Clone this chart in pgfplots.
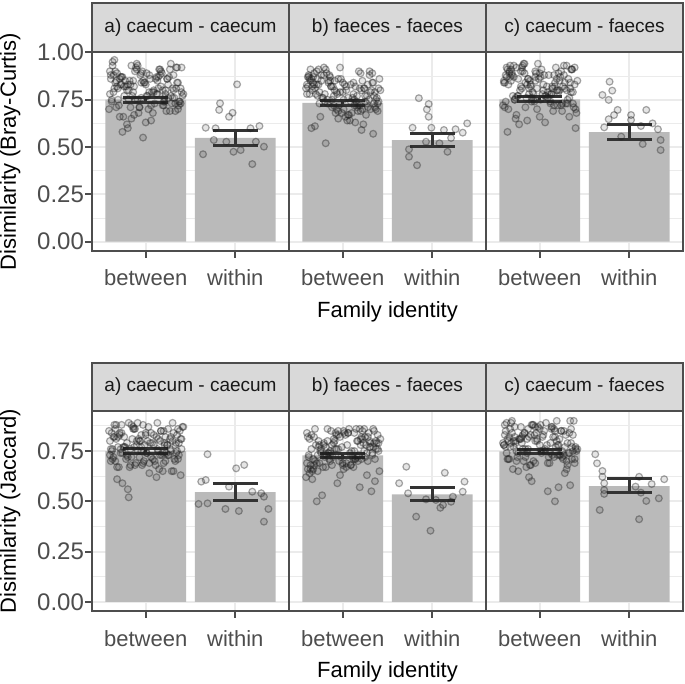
\documentclass[border=0pt]{standalone}
\usepackage{fontspec}
\setmainfont{Liberation Sans}
\usepackage{pgfplots}
\usepackage{pgfplotstable}
\pgfplotsset{compat=1.18}
\definecolor{frame}{RGB}{77,77,77}
\definecolor{stripfill}{RGB}{217,217,217}
\definecolor{gridc}{RGB}{235,235,235}
\definecolor{barc}{RGB}{186,186,186}
\definecolor{errc}{RGB}{51,51,51}
\definecolor{tickc}{RGB}{77,77,77}

% ---------- between-family points (jittered) ----------
\pgfplotstableread[row sep=\\]{x y\\
0.61 0.86\\ 0.93 0.71\\ 1.22 0.80\\ 0.74 0.58\\ 1.35 0.92\\ 0.85 0.77\\ 1.08 0.68\\ 0.66 0.90\\ 1.29 0.73\\ 0.99 0.84\\
0.71 0.66\\ 1.16 0.88\\ 0.88 0.75\\ 1.40 0.79\\ 0.63 0.95\\ 1.03 0.70\\ 1.25 0.83\\ 0.79 0.62\\ 1.12 0.87\\ 0.95 0.76\\
1.33 0.69\\ 0.69 0.81\\ 0.91 0.93\\ 1.19 0.72\\ 0.82 0.85\\ 1.38 0.74\\ 0.60 0.78\\ 1.06 0.64\\ 1.27 0.91\\ 0.76 0.82\\
0.97 0.55\\ 1.14 0.87\\ 0.67 0.71\\ 1.31 0.80\\ 0.87 0.67\\ 1.01 0.89\\ 1.21 0.76\\ 0.73 0.83\\ 1.36 0.70\\ 0.90 0.94\\
0.64 0.79\\ 1.10 0.73\\ 1.24 0.86\\ 0.80 0.60\\ 1.41 0.77\\ 0.95 0.84\\ 0.70 0.72\\ 1.17 0.90\\ 0.84 0.65\\ 1.30 0.81\\
1.04 0.88\\ 0.62 0.75\\ 1.23 0.69\\ 0.77 0.85\\ 1.13 0.78\\ 0.89 0.92\\ 1.37 0.74\\ 0.68 0.82\\ 1.00 0.63\\ 1.26 0.87\\
0.83 0.71\\ 1.09 0.80\\ 0.65 0.96\\ 1.32 0.76\\ 0.92 0.68\\ 1.18 0.89\\ 0.72 0.83\\ 1.39 0.73\\ 0.86 0.79\\ 1.05 0.86\\
0.59 0.70\\ 1.28 0.77\\ 0.98 0.84\\ 0.75 0.66\\ 1.15 0.91\\ 0.81 0.75\\ 1.34 0.81\\ 0.94 0.88\\ 1.20 0.72\\ 0.67 0.85\\
0.78 0.82\\ 1.02 0.77\\ 1.31 0.88\\ 0.62 0.74\\ 0.90 0.91\\ 1.19 0.80\\ 0.71 0.86\\ 1.37 0.72\\ 0.84 0.93\\ 1.07 0.79\\
0.66 0.84\\ 1.25 0.76\\ 0.95 0.89\\ 1.14 0.81\\ 0.74 0.87\\ 1.33 0.73\\ 0.60 0.90\\ 1.00 0.83\\ 1.22 0.78\\ 0.86 0.85\\
1.40 0.92\\ 0.69 0.75\\ 1.11 0.86\\ 0.81 0.80\\ 1.28 0.94\\ 0.93 0.71\\ 0.64 0.88\\ 1.17 0.82\\ 0.76 0.77\\ 1.35 0.84\\
1.04 0.79\\ 0.88 0.90\\ 1.21 0.74\\ 0.72 0.87\\ 1.39 0.81\\ 0.97 0.85\\ 0.63 0.93\\ 1.12 0.78\\ 0.83 0.83\\ 1.30 0.76\\
0.68 0.89\\ 1.06 0.72\\ 1.24 0.86\\ 0.79 0.80\\ 1.16 0.91\\ 0.91 0.75\\ 1.36 0.84\\ 0.61 0.88\\ 1.09 0.79\\ 0.87 0.82\\
1.27 0.69\\ 0.73 0.87\\ 1.01 0.77\\ 1.34 0.92\\ 0.80 0.83\\ 1.20 0.74\\ 0.96 0.90\\ 0.65 0.81\\ 1.13 0.85\\ 1.42 0.78\\
}\tAb
\pgfplotstableread[row sep=\\]{x y\\
0.67 0.84\\ 1.20 0.69\\ 0.94 0.78\\ 1.34 0.57\\ 1.30 0.88\\ 1.15 0.74\\ 0.75 0.66\\ 0.98 0.86\\ 1.28 0.71\\ 0.59 0.81\\
1.05 0.64\\ 0.86 0.85\\ 1.39 0.73\\ 0.72 0.77\\ 1.18 0.90\\ 0.92 0.68\\ 1.32 0.80\\ 0.65 0.60\\ 1.09 0.83\\ 0.83 0.75\\
1.26 0.67\\ 1.00 0.79\\ 0.68 0.89\\ 1.37 0.70\\ 0.89 0.82\\ 1.13 0.72\\ 0.77 0.76\\ 1.23 0.62\\ 0.62 0.87\\ 1.04 0.80\\
0.81 0.52\\ 0.84 0.84\\ 1.17 0.69\\ 0.70 0.78\\ 0.95 0.65\\ 1.41 0.86\\ 0.80 0.74\\ 1.24 0.81\\ 1.10 0.68\\ 0.64 0.91\\
0.90 0.77\\ 1.36 0.71\\ 0.73 0.83\\ 1.21 0.59\\ 1.01 0.75\\ 0.87 0.82\\ 1.31 0.70\\ 0.67 0.87\\ 1.14 0.63\\ 0.97 0.79\\
0.76 0.85\\ 1.27 0.73\\ 1.06 0.67\\ 0.60 0.83\\ 1.38 0.76\\ 0.82 0.89\\ 1.19 0.72\\ 0.91 0.80\\ 0.69 0.61\\ 1.33 0.84\\
0.95 0.69\\ 1.12 0.78\\ 0.79 0.92\\ 1.25 0.74\\ 1.03 0.66\\ 0.63 0.86\\ 1.40 0.81\\ 0.88 0.71\\ 1.16 0.77\\ 0.71 0.83\\
0.99 0.68\\ 1.29 0.75\\ 0.66 0.82\\ 1.08 0.64\\ 0.85 0.88\\ 1.35 0.73\\ 0.74 0.79\\ 1.22 0.85\\ 0.93 0.70\\ 0.61 0.82\\
1.42 0.80\\ 1.13 0.75\\ 0.65 0.86\\ 0.96 0.72\\ 1.20 0.89\\ 0.80 0.78\\ 1.34 0.84\\ 1.01 0.70\\ 0.73 0.91\\ 1.27 0.77\\
0.87 0.82\\ 1.09 0.74\\ 0.61 0.87\\ 1.36 0.79\\ 0.91 0.85\\ 1.16 0.71\\ 0.79 0.88\\ 1.24 0.81\\ 1.06 0.76\\ 0.68 0.83\\
1.30 0.90\\ 0.83 0.73\\ 1.12 0.84\\ 0.63 0.78\\ 0.97 0.92\\ 1.39 0.69\\ 0.72 0.86\\ 1.21 0.80\\ 0.88 0.75\\ 1.04 0.82\\
1.35 0.77\\ 0.76 0.88\\ 1.17 0.72\\ 0.64 0.85\\ 0.93 0.79\\ 1.28 0.83\\ 0.81 0.91\\ 1.11 0.76\\ 0.69 0.81\\ 1.40 0.74\\
0.86 0.87\\ 1.22 0.70\\ 1.00 0.84\\ 0.60 0.78\\ 1.33 0.89\\ 0.74 0.73\\ 1.14 0.82\\ 0.95 0.86\\ 1.25 0.77\\ 0.66 0.80\\
1.07 0.67\\ 0.84 0.85\\ 1.37 0.75\\ 0.71 0.90\\ 1.19 0.81\\ 0.90 0.72\\ 0.62 0.88\\ 1.31 0.79\\ 1.02 0.83\\ 0.78 0.76\\
}\tBb
\pgfplotstableread[row sep=\\]{x y\\
0.71 0.87\\ 1.16 0.72\\ 0.88 0.81\\ 1.40 0.60\\ 0.63 0.92\\ 1.03 0.78\\ 1.25 0.69\\ 0.79 0.90\\ 1.12 0.74\\ 0.95 0.85\\
1.33 0.66\\ 0.69 0.89\\ 0.91 0.76\\ 1.19 0.80\\ 0.82 0.94\\ 1.38 0.71\\ 0.60 0.84\\ 1.06 0.63\\ 1.27 0.88\\ 0.76 0.77\\
0.97 0.70\\ 1.14 0.82\\ 0.67 0.93\\ 1.31 0.73\\ 0.87 0.86\\ 1.01 0.75\\ 1.21 0.79\\ 0.73 0.65\\ 1.36 0.91\\ 0.90 0.83\\
0.64 0.58\\ 1.10 0.88\\ 1.24 0.72\\ 0.80 0.81\\ 1.41 0.68\\ 0.95 0.90\\ 0.70 0.77\\ 1.17 0.84\\ 0.84 0.71\\ 1.30 0.93\\
1.04 0.80\\ 0.62 0.74\\ 1.23 0.87\\ 0.77 0.62\\ 1.13 0.78\\ 0.89 0.85\\ 1.37 0.73\\ 0.68 0.91\\ 1.00 0.66\\ 1.26 0.82\\
0.83 0.89\\ 1.09 0.76\\ 0.65 0.70\\ 1.32 0.86\\ 0.92 0.79\\ 1.18 0.92\\ 0.72 0.75\\ 1.39 0.83\\ 0.86 0.64\\ 1.05 0.88\\
0.59 0.72\\ 1.28 0.81\\ 0.98 0.94\\ 0.75 0.77\\ 1.15 0.69\\ 0.81 0.90\\ 1.34 0.84\\ 0.94 0.74\\ 1.20 0.80\\ 0.67 0.87\\
0.61 0.71\\ 0.93 0.78\\ 1.22 0.85\\ 0.74 0.67\\ 1.35 0.91\\ 0.85 0.76\\ 1.08 0.82\\ 0.66 0.89\\ 1.29 0.73\\ 0.99 0.86\\
1.04 0.83\\ 0.88 0.78\\ 1.21 0.89\\ 0.72 0.75\\ 1.39 0.92\\ 0.97 0.81\\ 0.63 0.87\\ 1.12 0.73\\ 0.83 0.94\\ 1.30 0.80\\
0.68 0.85\\ 1.06 0.77\\ 1.24 0.90\\ 0.79 0.82\\ 1.16 0.88\\ 0.91 0.74\\ 1.36 0.91\\ 0.61 0.84\\ 1.09 0.79\\ 0.87 0.86\\
1.27 0.93\\ 0.73 0.76\\ 1.01 0.87\\ 1.34 0.81\\ 0.80 0.92\\ 1.20 0.72\\ 0.96 0.89\\ 0.65 0.83\\ 1.13 0.78\\ 1.42 0.85\\
0.78 0.80\\ 1.02 0.91\\ 1.31 0.75\\ 0.62 0.88\\ 0.90 0.82\\ 1.19 0.86\\ 0.71 0.93\\ 1.37 0.79\\ 0.84 0.84\\ 1.07 0.77\\
0.66 0.90\\ 1.25 0.73\\ 0.95 0.87\\ 1.14 0.81\\ 0.74 0.92\\ 1.33 0.76\\ 0.60 0.85\\ 1.00 0.89\\ 1.22 0.80\\ 0.86 0.83\\
1.40 0.70\\ 0.69 0.88\\ 1.11 0.78\\ 0.81 0.93\\ 1.28 0.84\\ 0.93 0.75\\ 0.64 0.91\\ 1.17 0.82\\ 0.76 0.86\\ 1.35 0.79\\
}\tCb
\pgfplotstableread[row sep=\\]{x y\\
0.64 0.82\\ 1.10 0.70\\ 1.24 0.78\\ 0.80 0.56\\ 1.41 0.87\\ 0.95 0.75\\ 0.70 0.67\\ 1.17 0.85\\ 0.84 0.72\\ 1.30 0.80\\
1.04 0.64\\ 0.62 0.84\\ 1.23 0.74\\ 0.77 0.77\\ 1.13 0.89\\ 0.89 0.69\\ 1.37 0.79\\ 0.68 0.61\\ 1.00 0.83\\ 1.26 0.73\\
0.83 0.68\\ 1.09 0.78\\ 0.65 0.88\\ 1.32 0.71\\ 0.92 0.81\\ 1.18 0.73\\ 0.72 0.76\\ 1.39 0.63\\ 0.86 0.86\\ 1.05 0.79\\
0.81 0.52\\ 1.28 0.82\\ 0.98 0.70\\ 0.75 0.77\\ 1.15 0.66\\ 0.59 0.85\\ 1.34 0.74\\ 0.94 0.80\\ 1.20 0.69\\ 0.67 0.88\\
0.61 0.76\\ 0.93 0.72\\ 1.22 0.82\\ 0.74 0.59\\ 1.35 0.75\\ 0.85 0.81\\ 1.08 0.71\\ 0.66 0.86\\ 1.29 0.65\\ 0.99 0.78\\
0.71 0.84\\ 1.16 0.73\\ 0.88 0.68\\ 1.40 0.81\\ 0.63 0.76\\ 1.03 0.87\\ 1.25 0.73\\ 0.79 0.79\\ 1.12 0.62\\ 0.95 0.83\\
1.33 0.70\\ 0.69 0.77\\ 0.91 0.89\\ 1.19 0.74\\ 0.82 0.67\\ 1.38 0.85\\ 0.60 0.80\\ 1.06 0.72\\ 1.27 0.76\\ 0.76 0.82\\
0.97 0.69\\ 1.14 0.75\\ 0.67 0.81\\ 1.31 0.65\\ 0.87 0.86\\ 1.01 0.74\\ 1.21 0.78\\ 0.73 0.84\\ 1.36 0.71\\ 0.90 0.80\\
1.33 0.78\\ 0.60 0.73\\ 1.00 0.84\\ 1.22 0.70\\ 0.86 0.87\\ 1.40 0.76\\ 0.69 0.82\\ 1.11 0.68\\ 0.81 0.89\\ 1.28 0.75\\
0.93 0.80\\ 0.64 0.72\\ 1.17 0.85\\ 0.76 0.77\\ 1.35 0.83\\ 1.04 0.69\\ 0.88 0.86\\ 1.21 0.79\\ 0.72 0.74\\ 1.39 0.81\\
0.97 0.88\\ 0.63 0.71\\ 1.12 0.82\\ 0.83 0.76\\ 1.30 0.89\\ 0.68 0.67\\ 1.06 0.84\\ 1.24 0.78\\ 0.79 0.73\\ 1.16 0.80\\
0.91 0.75\\ 1.36 0.86\\ 0.61 0.70\\ 1.09 0.83\\ 0.87 0.77\\ 1.27 0.81\\ 0.73 0.88\\ 1.01 0.74\\ 1.34 0.79\\ 0.80 0.72\\
1.20 0.85\\ 0.96 0.68\\ 0.65 0.82\\ 1.13 0.76\\ 1.42 0.87\\ 0.78 0.71\\ 1.02 0.80\\ 1.31 0.84\\ 0.62 0.75\\ 0.90 0.78\\
1.19 0.65\\ 0.71 0.83\\ 1.37 0.73\\ 0.84 0.88\\ 1.07 0.79\\ 0.66 0.70\\ 1.25 0.86\\ 0.95 0.77\\ 1.14 0.81\\ 0.74 0.74\\
}\tDb
\pgfplotstableread[row sep=\\]{x y\\
0.83 0.80\\ 1.09 0.68\\ 0.65 0.76\\ 1.32 0.55\\ 0.92 0.84\\ 1.18 0.73\\ 0.72 0.65\\ 1.39 0.83\\ 0.86 0.70\\ 1.05 0.78\\
0.59 0.62\\ 1.28 0.82\\ 0.98 0.72\\ 0.75 0.75\\ 1.15 0.86\\ 0.81 0.67\\ 1.34 0.77\\ 0.94 0.59\\ 1.20 0.81\\ 0.67 0.71\\
0.61 0.66\\ 0.93 0.76\\ 1.22 0.85\\ 0.74 0.69\\ 1.35 0.79\\ 0.85 0.71\\ 1.08 0.74\\ 0.66 0.61\\ 1.29 0.84\\ 0.99 0.77\\
0.71 0.50\\ 1.16 0.80\\ 0.88 0.68\\ 1.40 0.75\\ 0.63 0.64\\ 1.03 0.83\\ 1.25 0.72\\ 0.79 0.78\\ 1.12 0.67\\ 0.95 0.85\\
1.33 0.74\\ 0.69 0.70\\ 0.91 0.80\\ 1.19 0.57\\ 0.82 0.73\\ 1.38 0.79\\ 0.60 0.69\\ 1.06 0.84\\ 1.27 0.63\\ 0.76 0.76\\
0.97 0.82\\ 1.14 0.71\\ 0.67 0.66\\ 1.31 0.79\\ 0.87 0.74\\ 1.01 0.85\\ 1.21 0.71\\ 0.73 0.77\\ 1.36 0.60\\ 0.90 0.81\\
0.64 0.68\\ 1.10 0.75\\ 1.24 0.86\\ 0.80 0.72\\ 1.41 0.65\\ 0.95 0.83\\ 0.70 0.78\\ 1.17 0.70\\ 0.84 0.74\\ 1.30 0.80\\
1.04 0.67\\ 0.62 0.73\\ 1.23 0.79\\ 0.77 0.53\\ 1.13 0.84\\ 0.89 0.72\\ 1.37 0.76\\ 0.68 0.82\\ 1.00 0.69\\ 1.26 0.78\\
0.91 0.76\\ 1.36 0.71\\ 0.61 0.82\\ 1.09 0.68\\ 0.87 0.85\\ 1.27 0.74\\ 0.73 0.80\\ 1.01 0.66\\ 1.34 0.86\\ 0.80 0.73\\
1.20 0.78\\ 0.96 0.70\\ 0.65 0.83\\ 1.13 0.75\\ 1.42 0.81\\ 0.78 0.67\\ 1.02 0.84\\ 1.31 0.77\\ 0.62 0.72\\ 0.90 0.79\\
1.19 0.86\\ 0.71 0.69\\ 1.37 0.80\\ 0.84 0.74\\ 1.07 0.86\\ 0.66 0.65\\ 1.25 0.82\\ 0.95 0.76\\ 1.14 0.71\\ 0.74 0.78\\
1.33 0.73\\ 0.60 0.84\\ 1.00 0.68\\ 1.22 0.81\\ 0.86 0.75\\ 1.40 0.79\\ 0.69 0.86\\ 1.11 0.72\\ 0.81 0.77\\ 1.28 0.70\\
0.93 0.83\\ 0.64 0.66\\ 1.17 0.80\\ 0.76 0.74\\ 1.35 0.85\\ 1.04 0.69\\ 0.88 0.78\\ 1.21 0.82\\ 0.72 0.73\\ 1.39 0.76\\
0.97 0.63\\ 0.63 0.81\\ 1.12 0.71\\ 0.83 0.86\\ 1.30 0.77\\ 0.68 0.68\\ 1.06 0.84\\ 1.24 0.75\\ 0.79 0.79\\ 1.16 0.72\\
}\tEb
\pgfplotstableread[row sep=\\]{x y\\
0.90 0.83\\ 1.36 0.71\\ 0.73 0.79\\ 1.21 0.57\\ 1.01 0.88\\ 0.87 0.76\\ 1.31 0.68\\ 0.67 0.86\\ 1.14 0.73\\ 0.97 0.81\\
0.76 0.65\\ 1.27 0.85\\ 1.06 0.75\\ 0.60 0.78\\ 1.38 0.90\\ 0.82 0.70\\ 1.19 0.80\\ 0.91 0.60\\ 0.69 0.84\\ 1.33 0.74\\
0.95 0.69\\ 1.12 0.79\\ 0.79 0.87\\ 1.25 0.72\\ 1.03 0.82\\ 0.63 0.74\\ 1.40 0.77\\ 0.88 0.62\\ 1.16 0.86\\ 0.71 0.80\\
1.17 0.50\\ 1.29 0.83\\ 0.66 0.71\\ 1.08 0.78\\ 0.85 0.67\\ 1.35 0.86\\ 0.74 0.75\\ 1.22 0.81\\ 0.93 0.70\\ 0.61 0.88\\
0.67 0.77\\ 1.20 0.73\\ 0.94 0.83\\ 1.34 0.58\\ 0.81 0.76\\ 1.15 0.82\\ 0.75 0.72\\ 0.98 0.87\\ 1.28 0.64\\ 0.59 0.79\\
1.05 0.85\\ 0.86 0.74\\ 1.39 0.69\\ 0.72 0.82\\ 1.18 0.77\\ 0.92 0.88\\ 1.32 0.74\\ 0.65 0.80\\ 1.09 0.55\\ 0.83 0.84\\
1.26 0.71\\ 1.00 0.78\\ 0.68 0.89\\ 1.37 0.75\\ 0.89 0.68\\ 1.13 0.86\\ 0.77 0.81\\ 1.23 0.73\\ 0.62 0.77\\ 1.04 0.83\\
1.30 0.70\\ 0.84 0.76\\ 1.17 0.82\\ 0.70 0.66\\ 0.95 0.87\\ 1.41 0.75\\ 0.80 0.79\\ 1.24 0.85\\ 1.10 0.72\\ 0.64 0.81\\
1.35 0.79\\ 0.76 0.74\\ 1.17 0.85\\ 0.64 0.71\\ 0.93 0.88\\ 1.28 0.77\\ 0.81 0.83\\ 1.11 0.69\\ 0.69 0.90\\ 1.40 0.76\\
0.86 0.81\\ 1.22 0.73\\ 1.00 0.86\\ 0.60 0.78\\ 1.33 0.84\\ 0.74 0.70\\ 1.14 0.87\\ 0.95 0.80\\ 1.25 0.75\\ 0.66 0.82\\
1.07 0.89\\ 0.84 0.72\\ 1.37 0.83\\ 0.71 0.77\\ 1.19 0.90\\ 0.90 0.68\\ 0.62 0.85\\ 1.31 0.79\\ 1.02 0.74\\ 0.78 0.81\\
1.42 0.76\\ 1.13 0.87\\ 0.65 0.71\\ 0.96 0.84\\ 1.20 0.78\\ 0.80 0.82\\ 1.34 0.90\\ 1.01 0.75\\ 0.73 0.80\\ 1.27 0.73\\
0.87 0.86\\ 1.09 0.69\\ 0.61 0.83\\ 1.36 0.77\\ 0.91 0.88\\ 1.16 0.72\\ 0.79 0.81\\ 1.24 0.85\\ 1.06 0.76\\ 0.68 0.79\\
1.30 0.66\\ 0.83 0.84\\ 1.12 0.74\\ 0.63 0.89\\ 0.97 0.80\\ 1.39 0.71\\ 0.72 0.87\\ 1.21 0.78\\ 0.88 0.82\\ 1.04 0.75\\
}\tFb

% ---------- within-family points (jittered) ----------
\pgfplotstableread[row sep=\\]{x y\\
2.02 0.831\\ 1.83 0.731\\ 1.82 0.696\\ 1.97 0.681\\ 1.93 0.660\\ 1.67 0.602\\ 1.78 0.599\\ 2.27 0.611\\ 2.17 0.599\\
1.76 0.537\\ 1.64 0.462\\ 1.90 0.528\\ 1.98 0.475\\ 2.06 0.484\\ 2.23 0.528\\ 2.32 0.502\\ 2.19 0.410\\
}\tAw
\pgfplotstableread[row sep=\\]{x y\\
1.85 0.758\\ 1.96 0.727\\ 1.94 0.699\\ 1.96 0.660\\ 1.78 0.602\\ 1.99 0.602\\ 2.13 0.590\\ 2.26 0.594\\ 2.39 0.625\\
2.34 0.576\\ 2.21 0.548\\ 1.74 0.488\\ 1.74 0.449\\ 1.83 0.404\\ 2.17 0.475\\ 2.08 0.520\\ 1.93 0.528\\
}\tBw
\pgfplotstableread[row sep=\\]{x y\\
1.78 0.845\\ 1.81 0.798\\ 1.70 0.775\\ 1.77 0.749\\ 1.87 0.696\\ 1.83 0.669\\ 1.77 0.647\\ 2.02 0.669\\ 2.19 0.696\\
1.72 0.604\\ 2.02 0.643\\ 2.13 0.611\\ 2.26 0.625\\ 2.32 0.594\\ 2.35 0.537\\ 2.35 0.484\\ 2.15 0.516\\ 1.91 0.555\\
}\tCw
\pgfplotstableread[row sep=\\]{x y\\
1.69 0.734\\ 2.01 0.664\\ 2.10 0.681\\ 1.62 0.598\\ 1.67 0.606\\ 1.93 0.573\\ 1.59 0.487\\ 1.69 0.490\\
1.89 0.462\\ 2.04 0.452\\ 2.29 0.540\\ 2.32 0.523\\ 2.37 0.462\\ 2.32 0.399\\ 2.19 0.548\\
}\tDw
\pgfplotstableread[row sep=\\]{x y\\
1.71 0.672\\ 2.14 0.642\\ 2.36 0.598\\ 1.63 0.590\\ 2.34 0.548\\ 1.73 0.540\\ 2.23 0.523\\
2.04 0.507\\ 1.93 0.510\\ 1.82 0.424\\ 1.98 0.354\\ 2.12 0.482\\ 2.21 0.498\\ 2.09 0.468\\
}\tEw
\pgfplotstableread[row sep=\\]{x y\\
1.62 0.734\\ 1.64 0.689\\ 1.70 0.651\\ 1.70 0.622\\ 1.72 0.590\\ 1.72 0.556\\ 1.72 0.537\\ 2.11 0.622\\
2.25 0.586\\ 2.39 0.610\\ 2.33 0.515\\ 2.19 0.502\\ 2.07 0.573\\ 2.13 0.543\\ 1.67 0.457\\ 2.11 0.411\\
}\tFw

\pgfplotsset{
  panel/.style={
    scale only axis, width=98.5pt,
    xmin=0.4, xmax=2.6, xtick={1,2}, xticklabels={between,within},
    ytick={0,0.25,0.5,0.75,1},
    minor ytick={0.125,0.375,0.625,0.875},
    tick align=outside, tick pos=left,
    major tick length=3.5pt, minor tick length=0pt,
    axis line style={draw=frame, line width=1.3pt},
    tick style={draw=frame, line width=1pt},
    xmajorgrids=true, ymajorgrids=true, yminorgrids=true,
    major grid style={draw=gridc, line width=0.9pt},
    minor grid style={draw=gridc, line width=0.45pt},
    /pgf/number format/assume math mode=true,
    yticklabel style={/pgf/number format/fixed, /pgf/number format/fixed zerofill,
      /pgf/number format/precision=2, font=\fontsize{12}{14}\selectfont, text=tickc, xshift=3pt},
    xticklabel style={font=\fontsize{11}{13}\selectfont, text=tickc, yshift=-2.5pt},
    every axis title/.style={at={(0.5,1)}, anchor=south, fill=stripfill, draw=frame,
      line width=1.3pt, minimum width=98.5pt, inner sep=0pt, outer sep=0pt,
      font=\fontsize{9.5}{11}\selectfont, text=black!90},
  },
  toprow/.style={panel, height=99.5pt, ymin=-0.049, ymax=1.002,
    title style={minimum height=24.5pt}},
  botrow/.style={panel, height=100pt, ymin=-0.045, ymax=0.949,
    title style={minimum height=24pt}},
  noy/.style={yticklabels={}, ytick style={draw=none}},
  pts/.style={only marks, mark=*, mark size=1.7pt,
    mark options={draw=black!85, draw opacity=0.4, fill=black, fill opacity=0.1, line width=0.6pt}},
  bars/.style={ybar, bar width=0.9, fill=barc, draw=none},
  errs/.style={draw=none, mark=none, error bars/.cd, y dir=both, y explicit,
    error bar style={draw=errc, line width=1.4pt},
    error mark options={rotate=90, draw=errc, line width=1.5pt, mark size=11.2pt}},
}

\begin{document}
\begin{tikzpicture}
\path[use as bounding box] (0,0) rectangle (342.5pt,342pt);

% ===== Top row: Bray-Curtis =====
\begin{axis}[toprow, at={(46pt,316pt)}, anchor=north west, title={a) caecum - caecum}]
\addplot[bars] coordinates {(1,0.750) (2,0.548)};
\addplot[pts] table {\tAb};
\addplot[pts] table {\tAw};
\addplot[errs] coordinates {(1,0.750) +- (0,0.013) (2,0.548) +- (0,0.041)};
\end{axis}
\begin{axis}[toprow, noy, at={(144.5pt,316pt)}, anchor=north west, title={b) faeces - faeces}]
\addplot[bars] coordinates {(1,0.733) (2,0.537)};
\addplot[pts] table {\tBb};
\addplot[pts] table {\tBw};
\addplot[errs] coordinates {(1,0.733) +- (0,0.012) (2,0.539) +- (0,0.034)};
\end{axis}
\begin{axis}[toprow, noy, at={(243pt,316pt)}, anchor=north west, title={c) caecum - faeces}]
\addplot[bars] coordinates {(1,0.752) (2,0.579)};
\addplot[pts] table {\tCb};
\addplot[pts] table {\tCw};
\addplot[errs] coordinates {(1,0.752) +- (0,0.014) (2,0.580) +- (0,0.038)};
\end{axis}

% ===== Bottom row: Jaccard =====
\begin{axis}[botrow, at={(46pt,136.5pt)}, anchor=north west, title={a) caecum - caecum}]
\addplot[bars] coordinates {(1,0.749) (2,0.546)};
\addplot[pts] table {\tDb};
\addplot[pts] table {\tDw};
\addplot[errs] coordinates {(1,0.749) +- (0,0.012) (2,0.546) +- (0,0.041)};
\end{axis}
\begin{axis}[botrow, noy, at={(144.5pt,136.5pt)}, anchor=north west, title={b) faeces - faeces}]
\addplot[bars] coordinates {(1,0.729) (2,0.535)};
\addplot[pts] table {\tEb};
\addplot[pts] table {\tEw};
\addplot[errs] coordinates {(1,0.729) +- (0,0.011) (2,0.535) +- (0,0.033)};
\end{axis}
\begin{axis}[botrow, noy, at={(243pt,136.5pt)}, anchor=north west, title={c) caecum - faeces}]
\addplot[bars] coordinates {(1,0.748) (2,0.576)};
\addplot[pts] table {\tFb};
\addplot[pts] table {\tFw};
\addplot[errs] coordinates {(1,0.748) +- (0,0.011) (2,0.578) +- (0,0.036)};
\end{axis}

% axis titles
\node[rotate=90, anchor=base, font=\fontsize{11}{13}\selectfont] at (8pt,266.25pt) {Disimilarity (Bray-Curtis)};
\node[rotate=90, anchor=base, font=\fontsize{11}{13}\selectfont] at (8pt,86.5pt) {Disimilarity (Jaccard)};
\node[anchor=base, font=\fontsize{11}{13}\selectfont] at (193.75pt,183pt) {Family identity};
\node[anchor=base, font=\fontsize{11}{13}\selectfont] at (193.75pt,3pt) {Family identity};
\end{tikzpicture}
\end{document}
